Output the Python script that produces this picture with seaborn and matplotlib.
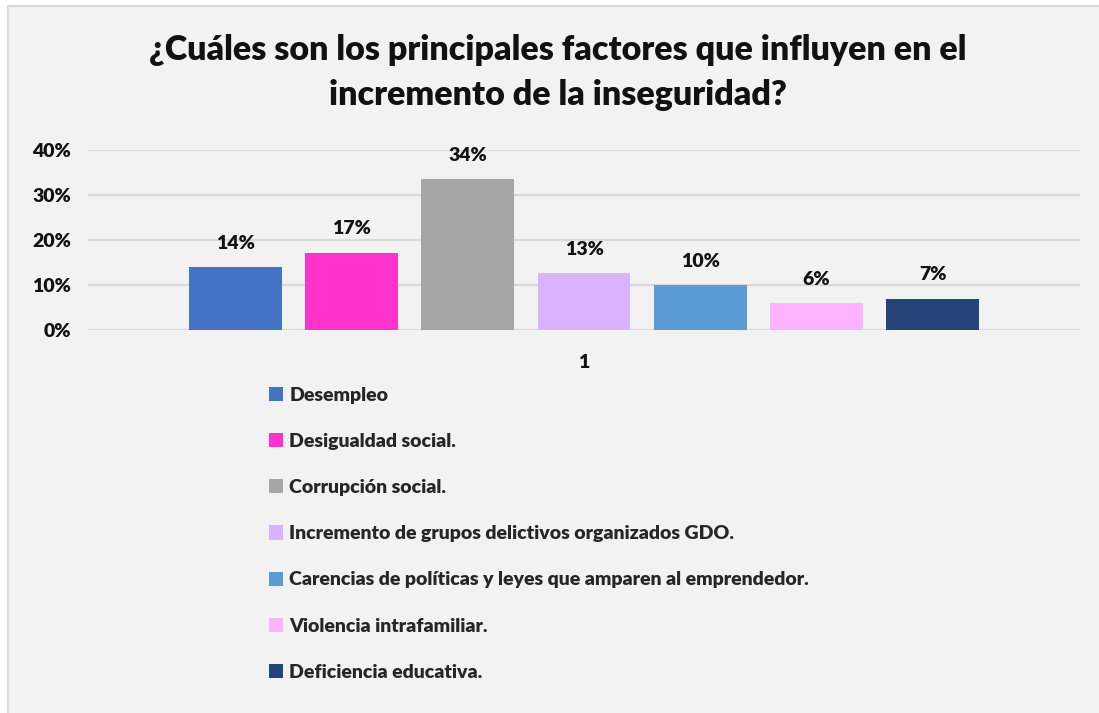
import matplotlib
matplotlib.use("Agg")
import matplotlib.pyplot as plt
import seaborn as sns
import pandas as pd
from matplotlib.patches import Rectangle
from matplotlib.ticker import PercentFormatter

# ---- data ----
categories = ["Desempleo",
              "Desigualdad social.",
              "Corrupción social.",
              "Incremento de grupos delictivos organizados GDO.",
              "Carencias de políticas y leyes que amparen al emprendedor.",
              "Violencia intrafamiliar.",
              "Deficiencia educativa."]
values = [0.139, 0.172, 0.335, 0.126, 0.099, 0.059, 0.070]
labels = ["14%", "17%", "34%", "13%", "10%", "6%", "7%"]
group = ["1"] * len(categories)
colors = ["#4472C4", "#FF33CC", "#A5A5A5", "#D9B3FF", "#5B9BD5", "#FFB3FF", "#264478"]
title = "¿Cuáles son los principales factores que influyen en el\nincremento de la inseguridad?"

df = pd.DataFrame({"grupo": group, "factor": categories, "valor": values})

sns.set_theme(style="white")
plt.rcParams["font.family"] = ["Lato", "DejaVu Sans"]

BG = "#F2F2F2"
GRID = "#D9D9D9"
W = "heavy"

fig = plt.figure(figsize=(10.99, 7.13), dpi=100, facecolor="white")
fig.patches.append(Rectangle((7.5/1099, -0.05), 1.1, 1.05 - 5.5/713, transform=fig.transFigure,
                             facecolor=BG, edgecolor=GRID, linewidth=1.5, zorder=-10))

ax = fig.add_axes([88/1099, 1-330/713, (1080-88)/1099, 180/713])
ax.set_facecolor(BG)
ax.patch.set_alpha(0)

sns.barplot(data=df, x="grupo", y="valor", hue="factor", hue_order=categories,
            palette=colors, width=0.82, gap=0.2, ax=ax, saturation=1,
            edgecolor="none", linewidth=0)

ax.set_ylim(0, 0.40)
ax.set_xlim(-0.5, 0.5)
ax.set_yticks([0, 0.1, 0.2, 0.3, 0.4])
ax.yaxis.set_major_formatter(PercentFormatter(1.0, decimals=0))
ax.grid(axis="y", color=GRID, linewidth=1.6)
ax.set_axisbelow(True)
for s in ax.spines.values():
    s.set_visible(False)
ax.set_xlabel("")
ax.set_ylabel("")
ax.tick_params(axis="y", length=0, pad=12, labelsize=14)
ax.tick_params(axis="x", length=0, pad=17, labelsize=14)
for t in ax.get_yticklabels() + ax.get_xticklabels():
    t.set_fontweight(W)
    t.set_color("#111111")

for cont, lab in zip(ax.containers, labels):
    ax.bar_label(cont, labels=[lab], padding=11, fontsize=14, fontweight=W, color="#111111")

handles, leg_labels = ax.get_legend_handles_labels()
if ax.get_legend() is not None:
    ax.get_legend().remove()
fig.legend(handles, leg_labels, loc="upper left", bbox_to_anchor=(261/1099, 1-379/713),
           frameon=False, prop={"weight": W, "size": 14}, labelspacing=1.5,
           handlelength=0.75, handleheight=0.75, handletextpad=0.3, borderaxespad=0)

fig.text(558/1099, 1-34/713, title, ha="center", va="top", fontsize=24.5, fontweight=W,
         color="#111111", linespacing=1.5)

fig.savefig("out.png", dpi=100, facecolor="white")
